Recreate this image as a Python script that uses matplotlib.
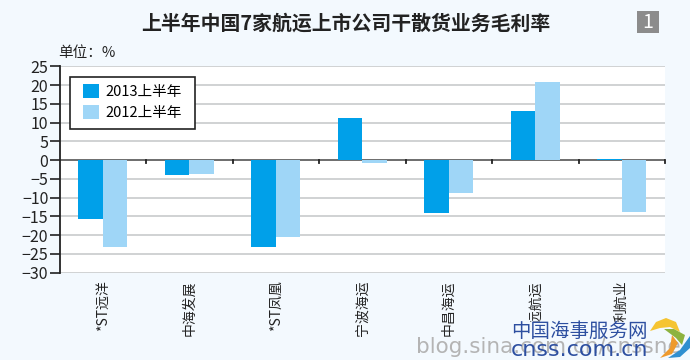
import matplotlib
matplotlib.use('Agg')
import matplotlib.pyplot as plt
from matplotlib.patches import Rectangle, Polygon
import numpy as np

plt.rcParams['font.family'] = ['Noto Sans CJK SC', 'DejaVu Sans']

companies = ['*ST远洋', '中海发展', '*ST凤凰', '宁波海运', '中昌海运', '中远航运', '利航业']
h1_2013 = [-15.8, -4.0, -23.2, 11.3, -14.0, 13.1, 0.4]
h1_2012 = [-23.2, -3.7, -20.4, -0.7, -8.7, 20.9, -13.8]
yticks = list(range(-30, 30, 5))

W, H = 690, 360
bg = '#f3f9fe'
fig = plt.figure(figsize=(W / 100, H / 100), dpi=100, facecolor=bg)
ax = fig.add_axes([59.5 / W, 1 - 272.7 / H, (665 - 59.5) / W, (272.7 - 66.3) / H])

x = np.arange(len(companies))
w = 0.285
ax.bar(x - w / 2, h1_2013, w, color='#00a0e9', label='2013上半年', zorder=3)
ax.bar(x + w / 2, h1_2012, w, color='#9fd6f7', label='2012上半年', zorder=3)

ax.set_xlim(-0.5, len(companies) - 0.5)
ax.set_ylim(-30, 25)
ax.set_yticks(yticks)
ax.tick_params(axis='y', labelsize=11.5, length=7, width=1.2, pad=1, color='#222222', labelcolor='#222222')
ax.yaxis.grid(True, color='#c4c6c8', lw=1.1, zorder=1)
ax.set_axisbelow(True)

# 横轴在0处，类别标签放到图下方
for s in ['top', 'right', 'bottom']:
    ax.spines[s].set_visible(False)
ax.spines['left'].set_linewidth(1.3)
ax.spines['left'].set_color('#222222')
ax.axhline(0, color='#666666', lw=1.3, zorder=2)
ax.set_xticks([])
for b in np.arange(1, len(companies) + 1) - 0.5:
    ax.plot([b, b], [0, -0.9], color='#222222', lw=1.3, zorder=4, clip_on=False)

for i, name in enumerate(companies):
    fig.text((59.5 + 86.5 * (i + 0.5)) / W, 1 - 280 / H, name, rotation=90, ha='center', va='top',
             fontsize=10, color='#222222', zorder=3)

# 图例框单独画，内边距左右不一样
fig.add_artist(Rectangle((69.5 / W, 1 - 129 / H), 125 / W, 52 / H, transform=fig.transFigure,
                         facecolor='white', edgecolor='#222222', lw=1.2, zorder=5))
leg = fig.legend(*ax.get_legend_handles_labels(), loc='upper left', bbox_to_anchor=(75.7 / W, 1 - 77 / H),
                 fontsize=10.5, frameon=False, borderpad=0.48, borderaxespad=0,
                 handlelength=1.1, handleheight=1.1, handletextpad=0.45, labelspacing=0.42)
leg.set_zorder(6)

fig.text(345.5 / W, 1 - 23 / H, '上半年中国7家航运上市公司干散货业务毛利率', ha='center', va='center',
         fontsize=14.3, fontweight='bold', color='#222222')
fig.text(58 / W, 1 - 53 / H, '单位：%', ha='left', va='center', fontsize=10.5, color='#222222')

fig.add_artist(Rectangle((637 / W, 1 - 33 / H), 22 / W, 22 / H, transform=fig.transFigure,
                         facecolor='#8c8c8c', edgecolor='none'))
fig.text(648 / W, 1 - 22 / H, '1', ha='center', va='center', fontsize=14, color='white')

# 水印，底下盖住被挡的标签
fig.add_artist(Rectangle((508 / W, 0), 182 / W, 38 / H, transform=fig.transFigure,
                         facecolor=bg, edgecolor='none', zorder=7))
fig.text(416 / W, 1 - 347 / H, 'blog.sina.com.cn/cnssne', ha='left', va='center', fontsize=15.5,
         color='#b4b4b4', family='DejaVu Sans', zorder=8)
fig.text(511 / W, 1 - 331 / H, '中国海事服务网', ha='left', va='center', fontsize=14, color='#2d4fa0', zorder=9)
fig.text(511 / W, 1 - 350 / H, 'cnss.com.cn', ha='left', va='center', fontsize=16, color='#2d4fa0',
         family='DejaVu Sans', zorder=9)

# logo
logo = [('#f5c431', [(650, 331), (656, 322), (666, 318), (676, 322), (680, 332), (670, 327), (660, 328)]),
        ('#8db33f', [(664, 329), (674, 329), (685, 335), (682, 345), (676, 338)]),
        ('#ee9a2d', [(660, 358), (670, 348), (672, 335), (678, 343), (672, 354)]),
        ('#2f8fd0', [(668, 358), (680, 350), (690, 336), (690, 348), (680, 357)])]
for col, pts in logo:
    fig.add_artist(Polygon([(a / W, 1 - b / H) for a, b in pts], transform=fig.transFigure,
                           facecolor=col, edgecolor='none', zorder=10))

fig.savefig('out.png', dpi=100, facecolor=bg)
